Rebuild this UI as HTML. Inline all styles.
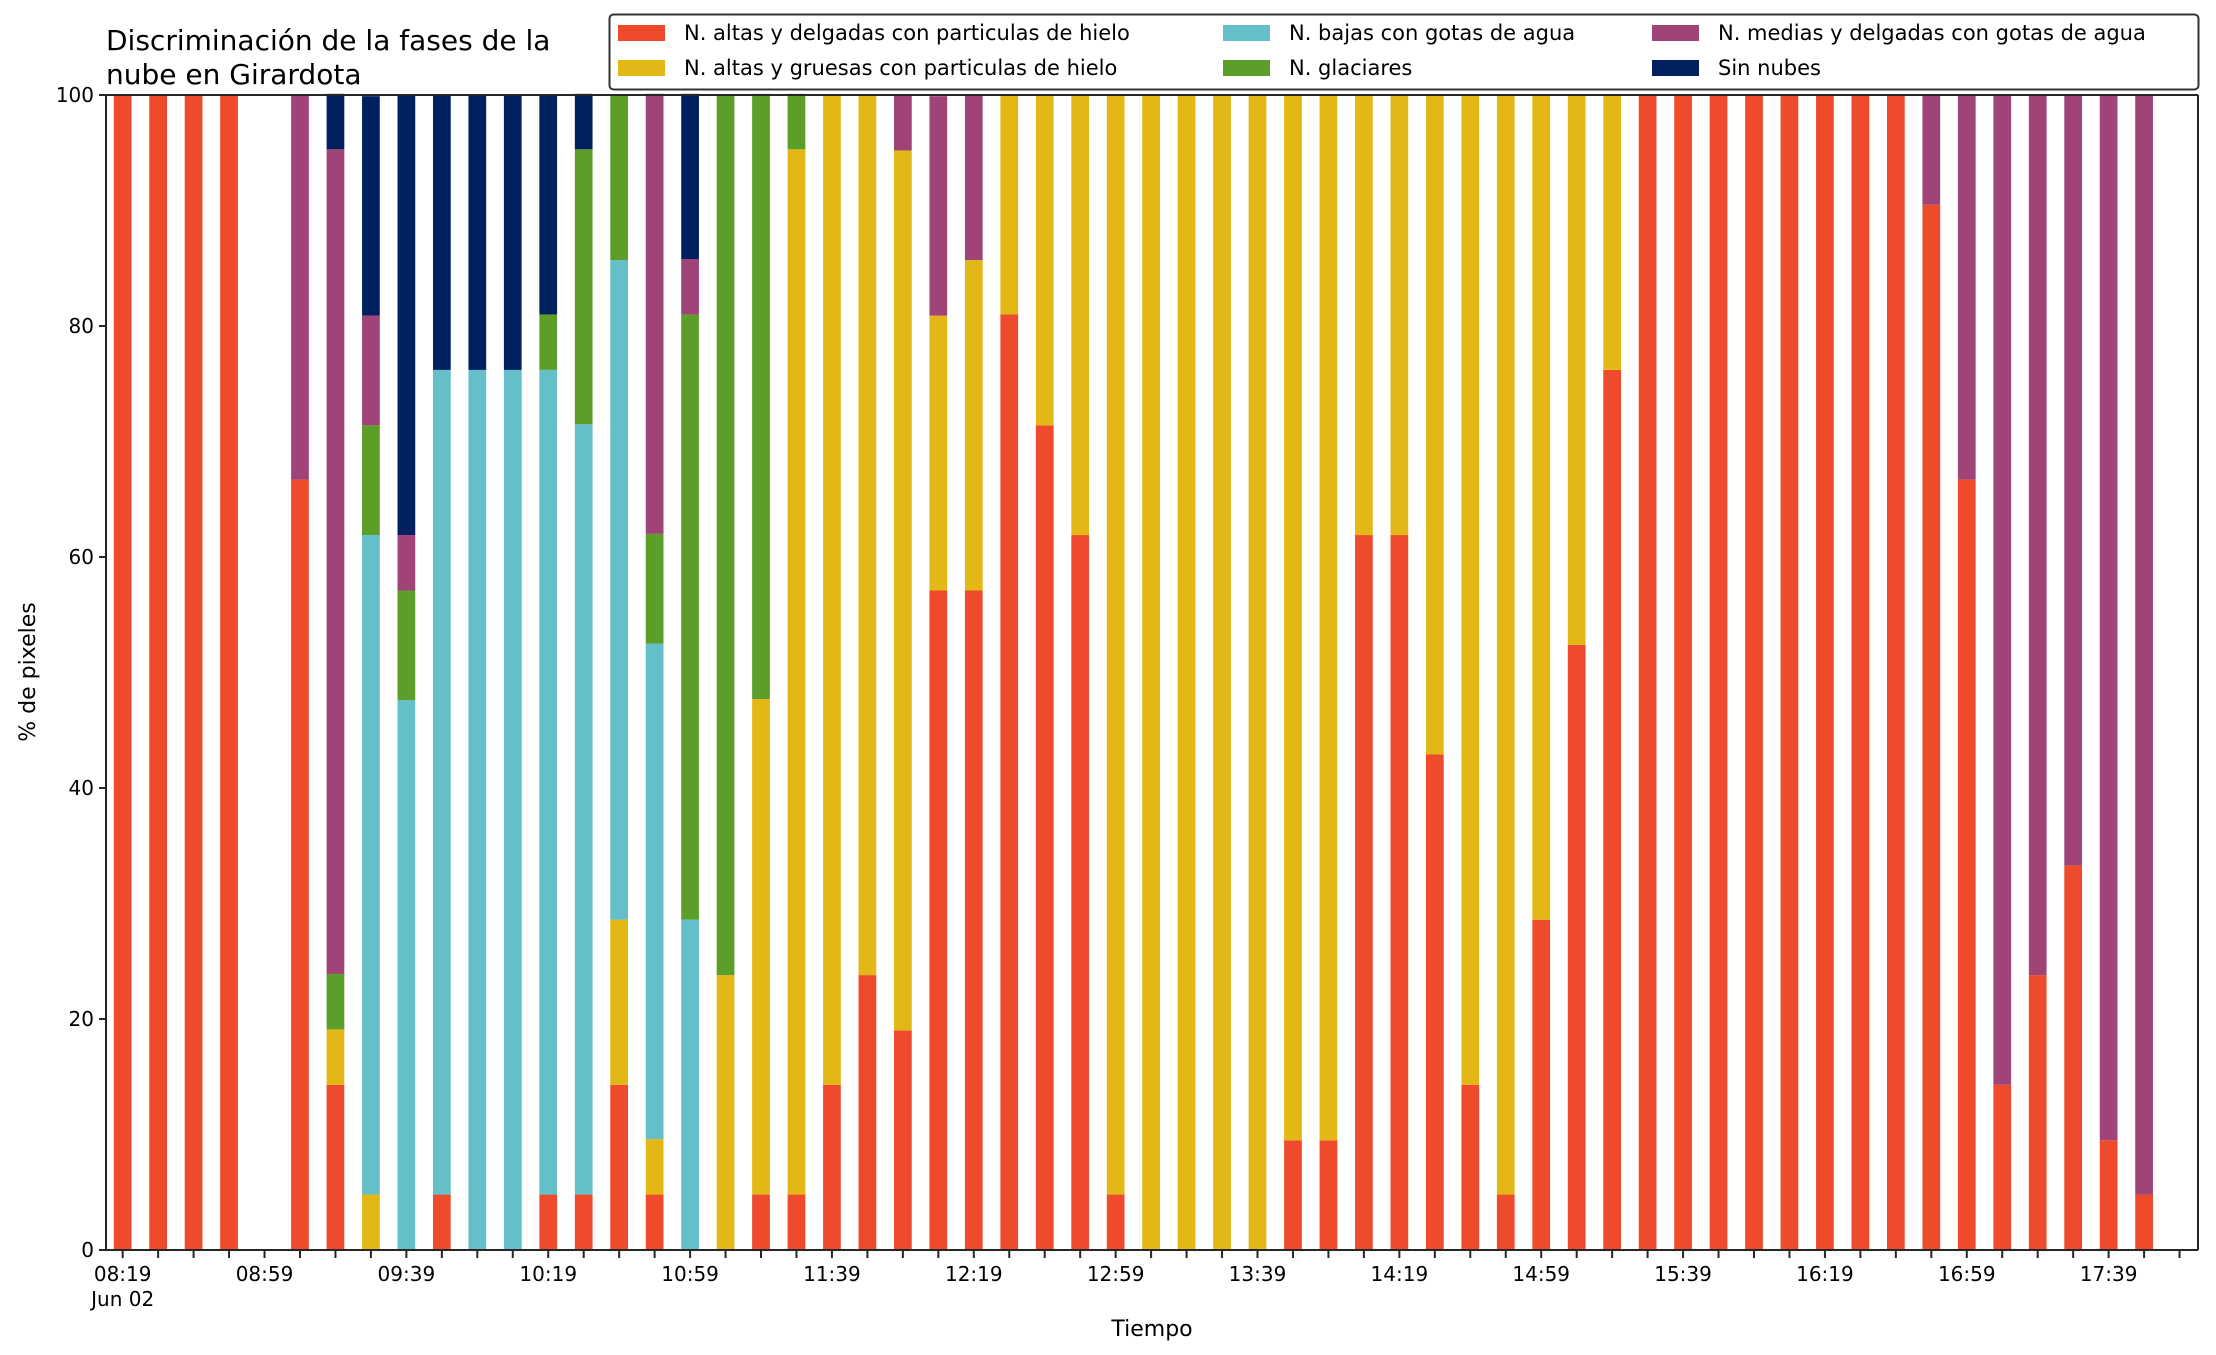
<!DOCTYPE html>
<html><head><meta charset="utf-8">
<style>
html,body{margin:0;padding:0;background:#fff;}
svg{display:block;font-family:"DejaVu Sans","Liberation Sans",sans-serif;}
</style></head>
<body>
<svg id="chart" width="2216" height="1355" viewBox="0 0 2216 1355" xmlns="http://www.w3.org/2000/svg">
<rect width="2216" height="1355" fill="#fff"/>
<g id="bars"></g>
<g id="axes"></g>
<text x="106" y="50" font-size="28" fill="#000">Discriminación de la fases de la</text>
<text x="106" y="84" font-size="28" fill="#000">nube en Girardota</text>
<text transform="translate(35,672) rotate(-90)" text-anchor="middle" font-size="22">% de pixeles</text>
<text x="1152" y="1336" text-anchor="middle" font-size="22">Tiempo</text>
<g id="legend">
<rect x="609.5" y="14.5" width="1589" height="75" rx="4" fill="#fff" stroke="#333" stroke-width="2"/>
</g>
</svg>
<script>
const times = ["08:19","08:29","08:39","08:49","08:59","09:09","09:19","09:29","09:39","09:49","09:59","10:09","10:19","10:29","10:39","10:49","10:59","11:09","11:19","11:29","11:39","11:49","11:59","12:09","12:19","12:29","12:39","12:49","12:59","13:09","13:19","13:29","13:39","13:49","13:59","14:09","14:19","14:29","14:39","14:49","14:59","15:09","15:19","15:29","15:39","15:49","15:59","16:09","16:19","16:29","16:39","16:49","16:59","17:09","17:19","17:29","17:39","17:49"];
const altasDelgadas = [100,100,100,100,0,66.7,14.3,0,0,4.8,0,0,4.8,4.8,14.3,4.8,0,0,4.8,4.8,14.3,23.8,19,57.1,57.1,81,71.4,61.9,4.8,0,0,0,0,9.5,9.5,61.9,61.9,42.9,14.3,4.8,28.6,52.4,76.2,100,100,100,100,100,100,100,100,90.5,66.7,14.3,23.8,33.3,9.5,4.8];
const altasGruesas = [0,0,0,0,0,0,4.8,4.8,0,0,0,0,0,0,14.3,4.8,0,23.8,42.9,90.5,85.7,76.2,76.2,23.8,28.6,19,28.6,38.1,95.2,100,100,100,100,90.5,90.5,38.1,38.1,57.1,85.7,95.2,71.4,47.6,23.8,0,0,0,0,0,0,0,0,0,0,0,0,0,0,0];
const bajas = [0,0,0,0,0,0,0,57.1,47.6,71.4,76.2,76.2,71.4,66.7,57.1,42.9,28.6,0,0,0,0,0,0,0,0,0,0,0,0,0,0,0,0,0,0,0,0,0,0,0,0,0,0,0,0,0,0,0,0,0,0,0,0,0,0,0,0,0];
const glaciares = [0,0,0,0,0,0,4.8,9.5,9.5,0,0,0,4.8,23.8,14.3,9.5,52.4,76.2,52.4,4.8,0,0,0,0,0,0,0,0,0,0,0,0,0,0,0,0,0,0,0,0,0,0,0,0,0,0,0,0,0,0,0,0,0,0,0,0,0,0];
const medias = [0,0,0,0,0,33.3,71.4,9.5,4.8,0,0,0,0,0,0,38.1,4.8,0,0,0,0,0,4.8,19,14.3,0,0,0,0,0,0,0,0,0,0,0,0,0,0,0,0,0,0,0,0,0,0,0,0,0,0,9.5,33.3,85.7,76.2,66.7,90.5,95.2];
const sinNubes = [0,0,0,0,0,0,4.8,19,38.1,23.8,23.8,23.8,19,4.8,0,0,14.3,0,0,0,0,0,0,0,0,0,0,0,0,0,0,0,0,0,0,0,0,0,0,0,0,0,0,0,0,0,0,0,0,0,0,0,0,0,0,0,0,0];
const yTicks = [0,20,40,60,80,100];
const seriesNames = ["N. altas y delgadas con particulas de hielo","N. altas y gruesas con particulas de hielo","N. bajas con gotas de agua","N. glaciares","N. medias y delgadas con gotas de agua","Sin nubes"];
const seriesColors = ["#ee4a2c","#e3b715","#64bfc9","#5b9f2a","#a04377","#002060"];
const seriesKeys = ["altas-delgadas","altas-gruesas","bajas","glaciares","medias","sin-nubes"];
const seriesData = [altasDelgadas,altasGruesas,bajas,glaciares,medias,sinNubes];

const NS = "http://www.w3.org/2000/svg";
const L = 106, R = 2198, T = 95, B = 1250;
function toMin(s){const p=s.split(":");return +p[0]*60+ +p[1];}
const t0 = toMin(times[0]), tN = toMin(times[times.length-1]);
const step = 10;
const xMin = t0 - 0.47*step, xMax = tN + step + 0.52*step;
function xs(m){return L + (m - xMin)/(xMax - xMin)*(R - L);}
function ys(v){return B - v/100*(B - T);}
const bw = 0.5*step*(R-L)/(xMax-xMin);

const gb = document.getElementById("bars");
times.forEach((t,i)=>{
  let cum = 0;
  const cx = xs(toMin(t));
  seriesData.forEach((arr,s)=>{
    const v = arr[i];
    if(!v) return;
    const r = document.createElementNS(NS,"rect");
    r.setAttribute("x", cx - bw/2);
    r.setAttribute("y", ys(cum+v));
    r.setAttribute("width", bw);
    r.setAttribute("height", ys(cum)-ys(cum+v));
    r.setAttribute("fill", seriesColors[s]);
    
    
    gb.appendChild(r);
    cum += v;
  });
});

const ga = document.getElementById("axes");
function line(x1,y1,x2,y2,name){
  const l = document.createElementNS(NS,"line");
  l.setAttribute("x1",x1);l.setAttribute("y1",y1);l.setAttribute("x2",x2);l.setAttribute("y2",y2);
  l.setAttribute("stroke","#262626");l.setAttribute("stroke-width","2");
  
  
  ga.appendChild(l);
}
function text(x,y,s,anchor,name,size){
  const e = document.createElementNS(NS,"text");
  e.setAttribute("x",x);e.setAttribute("y",y);e.setAttribute("text-anchor",anchor);
  e.setAttribute("font-size",size||20);e.textContent=s;
  
  
  ga.appendChild(e);
  return e;
}
line(L,T,R,T,"top-spine");
line(L,B,R,B,"bottom-spine");
line(L,T,L,B,"left-spine");
line(R,T,R,B,"right-spine");
yTicks.forEach(v=>{
  line(L-7,ys(v),L,ys(v),"y-tick");
  text(L-12,ys(v)+7,String(v),"end","y-tick-label");
});
for(let m=t0;m<=tN+step;m+=step){
  line(xs(m),B,xs(m),B+8,"x-tick");
  if((m-t0)%40===0){
    const hh=String(Math.floor(m/60)).padStart(2,"0"), mm=String(m%60).padStart(2,"0");
    text(xs(m),B+31,hh+":"+mm,"middle","x-tick-label");
    if(m===t0) text(xs(m),B+56,"Jun 02","middle","x-date-label");
  }
}

const gl = document.getElementById("legend");
const lx = [618,1223,1652], ly = [25,60];
seriesNames.forEach((n,s)=>{
  const c = Math.floor(s/2), r = s%2;
  const p = document.createElementNS(NS,"rect");
  p.setAttribute("x",lx[c]);p.setAttribute("y",ly[r]);p.setAttribute("width",47);p.setAttribute("height",16);
  p.setAttribute("fill",seriesColors[s]);
  
  
  gl.appendChild(p);
  const e = document.createElementNS(NS,"text");
  e.setAttribute("x",lx[c]+66);e.setAttribute("y",ly[r]+15);e.setAttribute("font-size",21);
  e.textContent = n;
  
  
  gl.appendChild(e);
});
</script>
</body></html>
